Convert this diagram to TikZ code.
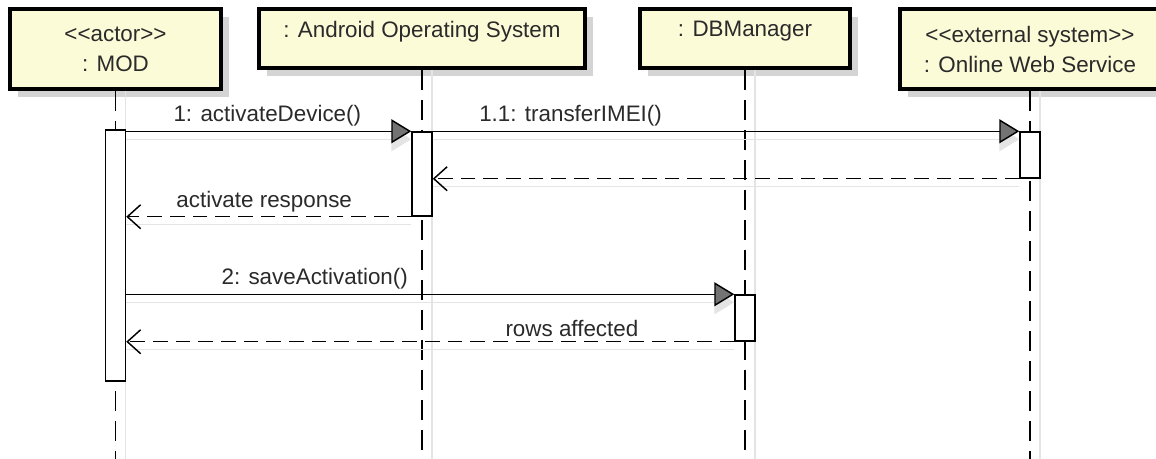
\documentclass[tikz,border=0pt]{standalone}
\usepackage{fontspec}
\newfontfamily\umlfont{Liberation Sans}
\usetikzlibrary{arrows.meta,positioning,shadows}
\definecolor{note}{HTML}{FCFBD8}
\definecolor{ink}{HTML}{2A2A2A}
\definecolor{shade}{HTML}{D4D4D4}
\definecolor{ghost}{HTML}{E4E4E4}

\begin{document}
\begin{tikzpicture}[x=0.75pt,y=-0.75pt,
    font=\umlfont\fontsize{16.8}{22.5}\selectfont,text=ink,
    head/.style={draw=black,line width=3pt,fill=note,align=center,
      inner sep=0pt,drop shadow={shadow xshift=6pt,shadow yshift=-6pt,
      fill=shade,opacity=1}},
    onerow/.style={text depth=14pt},
    act/.style={draw=black,line width=1.1pt,fill=white,
      minimum width=15pt,inner sep=0pt},
    life/.style={line width=1.1pt,dash pattern=on 15pt off 7.5pt},
    trail/.style={ghost,line width=1.1pt},
    msg/.style={line width=1.1pt,
      -{Triangle[length=15pt,width=18pt,fill=black!55]}},
    msgtrail/.style={trail,
      -{Triangle[length=15pt,width=18pt,fill=ghost]}},
    reply/.style={line width=1.1pt,dash pattern=on 11pt off 6pt,
      -{Straight Barb[length=10pt,width=18pt]}},
    lbl/.style={above=3pt,inner sep=0pt}]
  \clip (0,0) rectangle (1156,459);
  \coordinate (bot) at (0,459);

  \node[head,minimum width=158.25pt,minimum height=60pt] (mod) at (115.5,49)
    {<<actor>>\\: MOD};
  \node[head,onerow,minimum width=244.5pt,minimum height=44.25pt] (aos)
    at (422,38.5) {: Android Operating System};
  \node[head,onerow,minimum width=157.5pt,minimum height=44.25pt] (dbm)
    at (745,38.5) {: DBManager};
  \node[head,minimum width=195pt,minimum height=60pt] (ows) at (1030,49)
    {<<external system>>\\: Online Web Service};

  \draw[trail] ([xshift=7.5pt]mod.south) -- ([xshift=7.5pt]mod.south |- bot);
  \draw[trail] ([xshift=7.5pt]aos.south) -- ([xshift=7.5pt]aos.south |- bot);
  \draw[trail] ([xshift=7.5pt]dbm.south) -- ([xshift=7.5pt]dbm.south |- bot);
  \draw[trail] ([xshift=7.5pt]ows.south) -- ([xshift=7.5pt]ows.south |- bot);
  \draw[life] (mod.south) -- (mod.south |- bot);
  \draw[life] (aos.south) -- (aos.south |- bot);
  \draw[life] (dbm.south) -- (dbm.south |- bot);
  \draw[life] (ows.south) -- (ows.south |- bot);

  \node[act,minimum height=188.25pt] (actmod) at (115.5,255.5) {};
  \node[act,minimum height=63pt] (actaos) at (422,174) {};
  \node[act,minimum height=34.5pt] (actows) at (1030,155) {};
  \node[act,minimum height=34.5pt] (actdbm) at (745,318) {};

  \draw[msgtrail] ([yshift=-6pt]actmod.east |- actaos.north)
    -- ([yshift=-6pt]actaos.north west);
  \draw[msg] (actmod.east |- actaos.north) -- (actaos.north west)
    node[lbl,pos=.495] {1: activateDevice()};
  \draw[msgtrail] ([yshift=-6pt]actaos.north east)
    -- ([yshift=-6pt]actows.north west);
  \draw[msg] (actaos.north east) -- (actows.north west)
    node[lbl,pos=.235] {1.1: transferIMEI()};
  \draw[trail] ([yshift=-6pt]actows.south west)
    -- ([yshift=-6pt]actaos.east |- actows.south);
  \draw[reply] (actows.south west) -- (actaos.east |- actows.south);
  \draw[trail] ([yshift=-6pt]actaos.south west)
    -- ([yshift=-6pt]actmod.east |- actaos.south);
  \draw[reply] (actaos.south west) -- (actmod.east |- actaos.south)
    node[lbl,pos=.516] {activate response};

  \draw[msgtrail] ([yshift=-6pt]actmod.east |- actdbm.north)
    -- ([yshift=-6pt]actdbm.north west);
  \draw[msg] (actmod.east |- actdbm.north) -- (actdbm.north west)
    node[lbl,pos=.31] {2: saveActivation()};
  \draw[trail] ([yshift=-6pt]actdbm.south west)
    -- ([yshift=-6pt]actmod.east |- actdbm.south);
  \draw[reply] (actdbm.south west) -- (actmod.east |- actdbm.south)
    node[lbl,pos=.267] {rows affected};
\end{tikzpicture}
\end{document}
